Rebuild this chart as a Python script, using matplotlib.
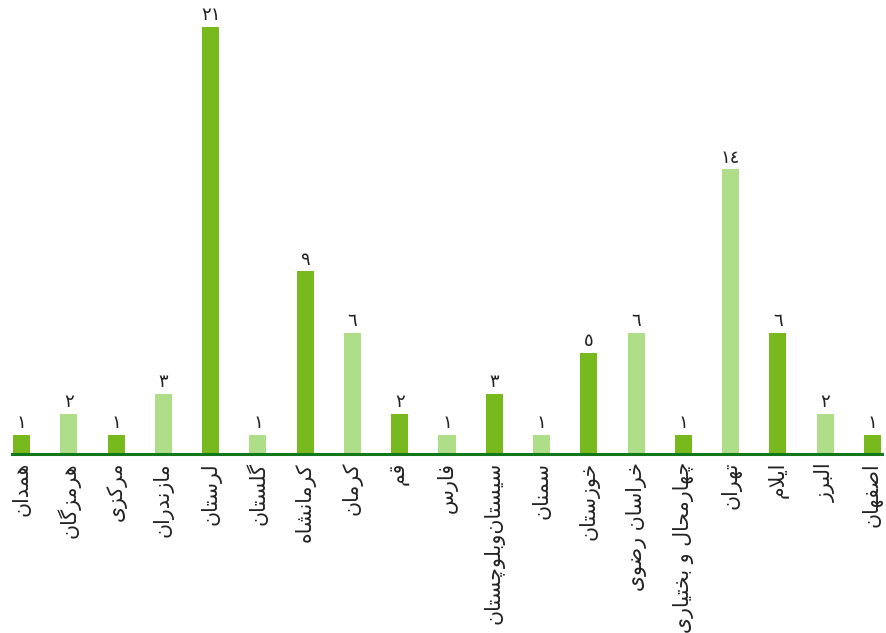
import matplotlib
matplotlib.use("Agg")
from matplotlib import pyplot as plt

provinces = ["همدان", "هرمزگان", "مرکزی", "مازندران", "لرستان", "گلستان",
             "کرمانشاه", "کرمان", "قم", "فارس", "سیستان\u200cوبلوچستان", "سمنان",
             "خوزستان", "خراسان رضوی", "چهارمحال و بختیاری", "تهران", "ایلام",
             "البرز", "اصفهان"]
counts = [1, 2, 1, 3, 21, 1, 9, 6, 2, 1, 3, 1, 5, 6, 1, 14, 6, 2, 1]

dark = "#78b91e"
light = "#aede88"
axis_green = "#12791a"

# presentation forms: iso, fin, ini, med (two entries = joins only to the right)
FORMS = {
	"ا": (0xFE8D, 0xFE8E), "ب": (0xFE8F, 0xFE90, 0xFE91, 0xFE92),
	"پ": (0xFB56, 0xFB57, 0xFB58, 0xFB59), "ت": (0xFE95, 0xFE96, 0xFE97, 0xFE98),
	"ث": (0xFE99, 0xFE9A, 0xFE9B, 0xFE9C), "ج": (0xFE9D, 0xFE9E, 0xFE9F, 0xFEA0),
	"چ": (0xFB7A, 0xFB7B, 0xFB7C, 0xFB7D), "ح": (0xFEA1, 0xFEA2, 0xFEA3, 0xFEA4),
	"خ": (0xFEA5, 0xFEA6, 0xFEA7, 0xFEA8), "د": (0xFEA9, 0xFEAA),
	"ذ": (0xFEAB, 0xFEAC), "ر": (0xFEAD, 0xFEAE), "ز": (0xFEAF, 0xFEB0),
	"ژ": (0xFB8A, 0xFB8B), "س": (0xFEB1, 0xFEB2, 0xFEB3, 0xFEB4),
	"ش": (0xFEB5, 0xFEB6, 0xFEB7, 0xFEB8), "ص": (0xFEB9, 0xFEBA, 0xFEBB, 0xFEBC),
	"ض": (0xFEBD, 0xFEBE, 0xFEBF, 0xFEC0), "ط": (0xFEC1, 0xFEC2, 0xFEC3, 0xFEC4),
	"ظ": (0xFEC5, 0xFEC6, 0xFEC7, 0xFEC8), "ع": (0xFEC9, 0xFECA, 0xFECB, 0xFECC),
	"غ": (0xFECD, 0xFECE, 0xFECF, 0xFED0), "ف": (0xFED1, 0xFED2, 0xFED3, 0xFED4),
	"ق": (0xFED5, 0xFED6, 0xFED7, 0xFED8), "ک": (0xFB8E, 0xFB8F, 0xFB90, 0xFB91),
	"گ": (0xFB92, 0xFB93, 0xFB94, 0xFB95), "ل": (0xFEDD, 0xFEDE, 0xFEDF, 0xFEE0),
	"م": (0xFEE1, 0xFEE2, 0xFEE3, 0xFEE4), "ن": (0xFEE5, 0xFEE6, 0xFEE7, 0xFEE8),
	"و": (0xFEED, 0xFEEE), "ه": (0xFEE9, 0xFEEA, 0xFEEB, 0xFEEC),
	"ی": (0xFBFC, 0xFBFD, 0xFBFE, 0xFBFF),
}

def shape(word):
	out = []
	i = 0
	n = len(word)
	while i < n:
		c = word[i]
		if c not in FORMS:
			if c != "\u200c":
				out.append(c)
			i += 1
			continue
		prev = word[i - 1] if i > 0 else ""
		join_prev = prev in FORMS and len(FORMS[prev]) == 4
		if c == "ل" and i + 1 < n and word[i + 1] == "ا":
			out.append(chr(0xFEFC if join_prev else 0xFEFB))
			i += 2
			continue
		nxt = word[i + 1] if i + 1 < n else ""
		join_next = len(FORMS[c]) == 4 and nxt in FORMS
		f = FORMS[c]
		if join_prev and join_next:
			out.append(chr(f[3]))
		elif join_prev:
			out.append(chr(f[1]))
		elif join_next:
			out.append(chr(f[2]))
		else:
			out.append(chr(f[0]))
		i += 1
	return "".join(out)[::-1]

def fa_num(v):
	return "".join(chr(0x0660 + int(d)) for d in str(v))

fig = plt.figure(figsize=(8.87, 6.33), dpi=100)
ax = fig.add_axes([0, 1 - 455 / 633, 1, 455 / 633])

for s in ["top", "left", "right"]:
	ax.spines[s].set_visible(False)
ax.spines["bottom"].set_position(("outward", -1))
ax.spines["bottom"].set_color(axis_green)
ax.spines["bottom"].set_linewidth(2.2)
ax.spines["bottom"].set_zorder(3)

x = list(range(len(provinces)))
colors = [dark if i % 2 == 0 else light for i in x]
ax.bar(x, counts, width=0.36, color=colors, zorder=2)

for xi, v in zip(x, counts):
	ax.annotate(fa_num(v), (xi, v), xytext=(0, 2), textcoords="offset points",
				ha="center", va="bottom", fontsize=13, color="#222222",
				family="DejaVu Sans")

ax.set_xlim(-0.455, 18.307)
ax.set_ylim(0, 455 / 20.4)
ax.spines["bottom"].set_bounds(-0.2, 18.2)
ax.set_xticks(x)
ax.set_xticklabels([shape(p) for p in provinces], rotation=90,
				   fontsize=14.8, color="#222222", family="DejaVu Sans")
ax.tick_params(axis="x", length=0, pad=6)
ax.set_yticks([])

fig.savefig("out.png", dpi=100)
